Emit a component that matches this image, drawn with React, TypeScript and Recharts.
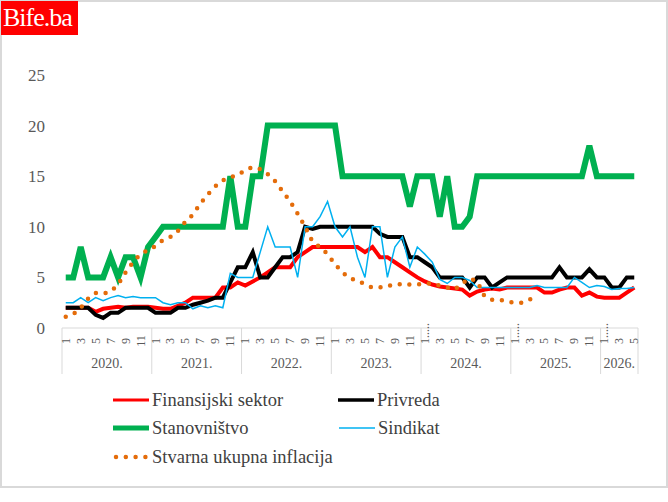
import React from 'react';
import { LineChart, Line, XAxis, YAxis } from 'recharts';

// kategorije: godine i broj mjeseci po godini
const yearLabels = ['2020.', '2021.', '2022.', '2023.', '2024.', '2025.', '2026.'];
const monthsInYear = [12, 12, 12, 12, 12, 12, 5];
const monthTicks = [1, 3, 5, 7, 9, 11];
const yTicks = [0, 5, 10, 15, 20, 25];

const finansijski = [
  2, 2, 2, 2, 1.6, 1.9, 2, 2.1, 2, 2.1, 2.1, 2.1,
  2, 1.9, 1.9, 2.2, 2.5, 3, 3, 3, 3, 4, 4, 4.5,
  4.2, 4.6, 5, 5.5, 6, 6, 6, 7, 7.5, 8, 8, 8,
  8, 8, 8, 8, 7.5, 8, 7, 7, 6.5, 6, 5.5, 5,
  4.6, 4.3, 4.1, 4, 3.9, 3.8, 3.2, 3.6, 3.8, 3.9, 3.8, 4,
  4, 4, 4, 4, 3.5, 3.5, 3.8, 4, 4, 3.2, 3.5, 3.1,
  3, 3, 3, 3.5, 4,
];
const privreda = [
  2, 2, 2, 2, 1.3, 1, 1.5, 1.5, 2, 2, 2, 2,
  1.5, 1.5, 1.5, 2, 2, 2.3, 2.5, 2.7, 3, 3, 4.5, 6,
  6, 7.5, 5, 5, 6, 7, 7, 7.5, 10, 9.8, 10, 10,
  10, 10, 10, 10, 10, 10, 9.3, 9, 9, 9, 7, 7,
  6.5, 6, 5, 5, 5, 5, 4, 5, 5, 4, 4.5, 5,
  5, 5, 5, 5, 5, 5, 6, 5, 5, 5, 5.8, 5,
  5, 4, 4, 5, 5,
];
const stanovnistvo = [
  5, 5, 8, 5, 5, 5, 7, 5, 7, 7, 5, 8,
  9, 10, 10, 10, 10, 10, 10, 10, 10, 10, 15, 10,
  10, 15, 15, 20, 20, 20, 20, 20, 20, 20, 20, 20,
  20, 15, 15, 15, 15, 15, 15, 15, 15, 15, 12, 15,
  15, 15, 11, 15, 10, 10, 11, 15, 15, 15, 15, 15,
  15, 15, 15, 15, 15, 15, 15, 15, 15, 15, 18, 15,
  15, 15, 15, 15, 15,
];
const sindikat = [
  2.5, 2.5, 3, 2.5, 3, 2.7, 3, 3.2, 3, 3.1, 3, 3,
  3, 2.5, 2.3, 2.5, 2.5, 1.9, 2.2, 2, 2.2, 2, 5.4, 5,
  5, 5, 7.5, 10, 8, 8, 8, 5, 10, 10, 11, 12.5,
  10, 9, 10, 7, 5, 10, 10, 5, 8, 9, 6, 8,
  7.3, 6.5, 4.8, 4.4, 5, 5, 4.7, 4, 4, 4, 4, 4,
  4, 4, 4, 4.2, 4, 4, 4, 4, 5, 4.5, 4, 4.2,
  4.1, 3.8, 3.9, 3.9, 4,
];
const inflacija = [
  1.1, 1.35, 2, 2.9, 3.45, 3.4, 3.6, 4.3, 5.5, 6.5, 7.3, 7.7,
  8.1, 8.7, 9, 9.6, 10.5, 11.2, 12.3, 13.2, 14, 14.6, 14.9, 15.1,
  15.6, 15.9, 15.7, 15.2, 14.5, 13.5, 12.5, 11.3, 10, 8.5, 8, 7.3,
  6.3, 5.5, 4.9, 4.7, 4.3, 4, 4, 4.2, 4.2, 4.4, 4.3, 4.3,
  4.4, 4.4, 4.2, 4, 3.8, 4.4, 4.9, 4.6, 3.1, 2.8, 2.8, 2.6,
  2.5, 2.5, 2.8, 3.3,
];

const data: any[] = [];
yearLabels.forEach((yr, yi) => {
  for (let m = 1; m <= monthsInYear[yi]; m++) {
    const k = data.length;
    data.push({
      idx: k,
      month: m,
      yearIdx: yi,
      fin: finansijski[k],
      priv: privreda[k],
      stan: stanovnistvo[k],
      sind: sindikat[k],
      infl: k < inflacija.length ? inflacija[k] : null,
    });
  }
});

const FONT = "'Liberation Serif', 'Times New Roman', Times, 'DejaVu Serif', serif";
const GRAY = '#d9d9d9';
const TXT = '#595959';
const STEP = 576 / data.length;

const AxisTick = (props: any) => {
  const { x, y, payload } = props;
  const row = data[payload.value];
  if (!row) return null;
  const yi = row.yearIdx;
  const out: React.ReactNode[] = [];
  if (row.month === 1) {
    out.push(<line key="s" x1={x - STEP / 2} x2={x - STEP / 2} y1={y} y2={y + 46} stroke={GRAY} />);
  }
  if (row.idx === data.length - 1) {
    out.push(<line key="e" x1={x + STEP / 2} x2={x + STEP / 2} y1={y} y2={y + 46} stroke={GRAY} />);
  }
  if (monthTicks.includes(row.month)) {
    const cut = row.month === 1 && yi >= 4;
    out.push(
      <text
        key="m"
        transform={`translate(${x},${cut ? y + 16 : y + 13}) rotate(-90)`}
        textAnchor={cut ? 'start' : 'middle'}
        dominantBaseline="central"
        fontSize={12}
        style={{ fontFamily: FONT }}
        fill={TXT}
      >
        {cut ? '1.....' : row.month}
      </text>
    );
  }
  const full = monthsInYear[yi] === 12;
  if ((full && row.month === 6) || (!full && row.month === Math.ceil(monthsInYear[yi] / 2))) {
    out.push(
      <text key="y" x={full ? x + STEP / 2 : x} y={y + 40} textAnchor="middle" fontSize={14} style={{ fontFamily: FONT }} fill={TXT}>
        {yearLabels[yi]}
      </text>
    );
  }
  return <g>{out}</g>;
};

const legendItems = [
  { name: 'Finansijski sektor', color: '#ff0000', w: 3, left: 113, top: 400 },
  { name: 'Privreda', color: '#000000', w: 3.5, left: 338, top: 400 },
  { name: 'Stanovništvo', color: '#00b050', w: 5, left: 113, top: 428 },
  { name: 'Sindikat', color: '#00b0f0', w: 1.5, left: 339, top: 428 },
  { name: 'Stvarna ukupna inflacija', color: '#e46c0a', w: 4.5, left: 113, top: 457, dots: true },
];

const App = () => {
  return (
    <div style={{ position: 'absolute', left: 0, top: 0, width: 668, height: 502, background: '#fff', fontFamily: FONT }}>
      <div
        style={{
          position: 'absolute', left: 0, top: 0, width: 668, height: 488,
          boxSizing: 'border-box', border: `2px solid ${GRAY}`,
        }}
      />
      <div
        style={{
          position: 'absolute', left: 1, top: 1, width: 77, height: 34, background: '#ff0000',
          color: '#fff', fontFamily: FONT, fontSize: 26, lineHeight: '34px', letterSpacing: -1, paddingLeft: 2,
          boxSizing: 'border-box', zIndex: 2,
        }}
      >
        Bife.ba
      </div>
      <div style={{ position: 'absolute', left: 0, top: 0 }}>
        <LineChart width={668} height={478} data={data} margin={{ top: 75, right: 30, left: 12, bottom: 0 }}>
          <XAxis
            dataKey="idx"
            type="category"
            interval={0}
            height={150}
            padding={{ left: STEP / 2, right: STEP / 2 }}
            axisLine={{ stroke: GRAY }}
            tickLine={false}
            tickSize={0}
            tickMargin={0}
            tick={<AxisTick />}
          />
          <YAxis
            domain={[0, 25]}
            ticks={yTicks}
            interval={0}
            width={50}
            axisLine={false}
            tickLine={false}
            tickSize={0}
            tickMargin={17}
            tick={{ fontSize: 17, fill: TXT, style: { fontFamily: FONT } }}
          />
          <Line dataKey="fin" stroke="#ff0000" strokeWidth={4} dot={false} activeDot={false} isAnimationActive={false} />
          <Line dataKey="priv" stroke="#000000" strokeWidth={4} dot={false} activeDot={false} isAnimationActive={false} />
          <Line dataKey="stan" stroke="#00b050" strokeWidth={6} dot={false} activeDot={false} isAnimationActive={false} />
          <Line dataKey="sind" stroke="#00b0f0" strokeWidth={1.5} dot={false} activeDot={false} isAnimationActive={false} />
          <Line
            dataKey="infl"
            stroke="#e46c0a"
            strokeWidth={4.5}
            strokeDasharray="0 9.8"
            strokeLinecap="round"
            dot={false}
            activeDot={false}
            isAnimationActive={false}
          />
        </LineChart>
      </div>
      {legendItems.map((it) => (
        <div
          key={it.name}
          style={{
            position: 'absolute', left: it.left, top: it.top - 14, height: 28,
            display: 'flex', alignItems: 'center', fontFamily: FONT, fontSize: 18.5, color: '#404040',
            whiteSpace: 'nowrap',
          }}
        >
          <svg width={36} height={10} style={{ marginRight: 3 }}>
            {it.dots ? (
              <line x1={3} x2={34} y1={5} y2={5} stroke={it.color} strokeWidth={it.w} strokeDasharray="0 9.8" strokeLinecap="round" />
            ) : (
              <line x1={0} x2={36} y1={5} y2={5} stroke={it.color} strokeWidth={it.w} />
            )}
          </svg>
          <span>{it.name}</span>
        </div>
      ))}
    </div>
  );
};

export default App;
